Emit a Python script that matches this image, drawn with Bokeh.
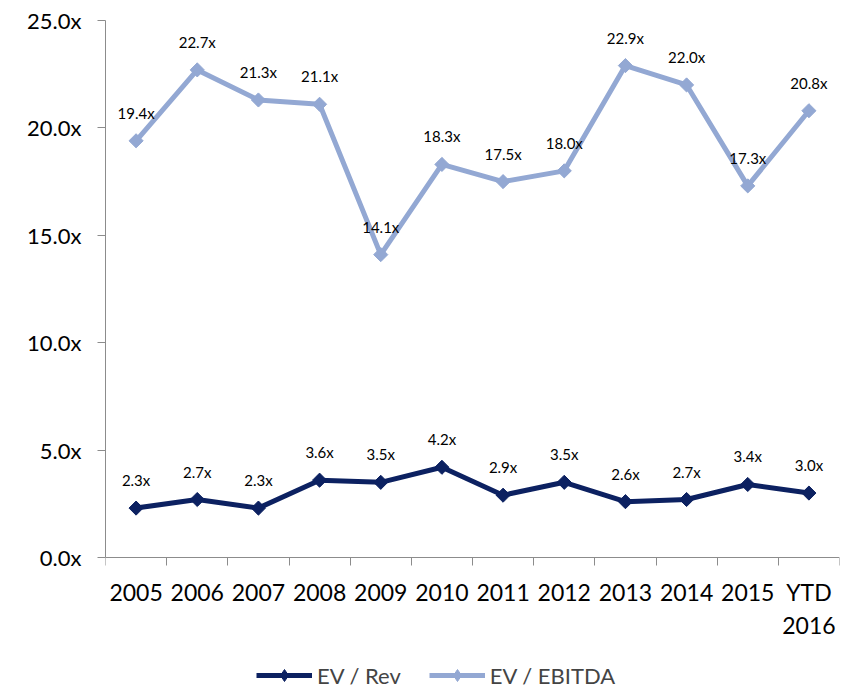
import numpy as np
from bokeh.plotting import figure
from bokeh.models import (Range1d, FixedTicker, PrintfTickFormatter, Legend, LegendItem)
from bokeh.core.properties import value
from bokeh.embed import file_html
from bokeh.resources import INLINE

years = ["2005", "2006", "2007", "2008", "2009", "2010", "2011", "2012", "2013", "2014", "2015", "YTD\n2016"]
ev_rev = [2.3, 2.7, 2.3, 3.6, 3.5, 4.2, 2.9, 3.5, 2.6, 2.7, 3.4, 3.0]
ev_ebitda = [19.4, 22.7, 21.3, 21.1, 14.1, 18.3, 17.5, 18.0, 22.9, 22.0, 17.3, 20.8]
y_ticks = [0, 5, 10, 15, 20, 25]

NAVY = "#0c2161"
LIGHT = "#93a8d3"
FONT = "Lato"

xs = [i + 0.5 for i in range(len(years))]

FRAME_H = 670
AXIS_PX = 537          # pixel height of the 0..25 value span
y_top = 25
y_bottom = y_top - FRAME_H * y_top / AXIS_PX

p = figure(output_backend="svg", toolbar_location=None,
           frame_width=734, frame_height=FRAME_H,
           x_range=Range1d(0, len(years)), y_range=Range1d(y_bottom, y_top))
p.min_border_left = 105
p.min_border_top = 20
p.min_border_right = 6
p.min_border_bottom = 0
p.outline_line_color = None
p.xgrid.visible = False
p.ygrid.visible = False
p.background_fill_color = "white"
p.border_fill_color = "white"

# axes
p.yaxis.ticker = FixedTicker(ticks=y_ticks)
p.yaxis.bounds = (0, 25)
p.yaxis.formatter = PrintfTickFormatter(format="%.1fx")
p.yaxis.axis_line_color = "#8c8c8c"
p.yaxis.major_tick_line_color = "#8c8c8c"
p.yaxis.major_tick_out = 8
p.yaxis.major_tick_in = 0
p.yaxis.minor_tick_line_color = None
p.yaxis.major_label_standoff = 16
p.yaxis.major_label_text_font = FONT
p.yaxis.major_label_text_font_size = "22px"
p.yaxis.major_label_text_color = "black"

p.xaxis.fixed_location = 0
p.xaxis.ticker = FixedTicker(ticks=xs, minor_ticks=list(range(len(years) + 1)))
p.xaxis.major_label_overrides = {x: y for x, y in zip(xs, years)}
p.xaxis.axis_line_color = "#8c8c8c"
p.xaxis.major_tick_line_color = None
p.xaxis.minor_tick_line_color = "#8c8c8c"
p.xaxis.minor_tick_out = 8
p.xaxis.minor_tick_in = 0
p.xaxis.major_tick_out = 8
p.xaxis.major_label_standoff = 12
p.xaxis.major_label_text_font = FONT
p.xaxis.major_label_text_font_size = "23px"
p.xaxis.major_label_text_color = "black"
p.xaxis.major_label_text_align = "center"

# series
l_rev = p.line(xs, ev_rev, line_color=NAVY, line_width=5)
k_rev = p.scatter(xs, ev_rev, marker="diamond", size=12, fill_color=NAVY, line_color=NAVY)
p.scatter(xs, ev_rev, marker="square", angle=np.pi / 4, size=10,
          fill_color=NAVY, line_color=NAVY)
l_eb = p.line(xs, ev_ebitda, line_color=LIGHT, line_width=5)
k_eb = p.scatter(xs, ev_ebitda, marker="diamond", size=12, fill_color=LIGHT, line_color=LIGHT)
p.scatter(xs, ev_ebitda, marker="square", angle=np.pi / 4, size=10,
          fill_color=LIGHT, line_color=LIGHT)

# data labels
for vals in (ev_rev, ev_ebitda):
    p.text(xs, vals, text=[f"{v:.1f}x" for v in vals], text_align="center",
           text_baseline="middle", y_offset=-28, text_font=value(FONT),
           text_font_size="15px", text_color="black")

legend = Legend(items=[LegendItem(label="EV / Rev", renderers=[l_rev, k_rev]),
                       LegendItem(label="EV / EBITDA", renderers=[l_eb, k_eb])],
                orientation="horizontal", location=(151, 0))
legend.label_text_font = FONT
legend.label_text_font_size = "22px"
legend.glyph_width = 56
legend.glyph_height = 30
legend.label_standoff = 5
legend.spacing = 28
legend.padding = 0
legend.margin = 0
legend.border_line_color = None
legend.background_fill_alpha = 0
p.add_layout(legend, "center")

open("out.html", "w").write(file_html(p, INLINE))
